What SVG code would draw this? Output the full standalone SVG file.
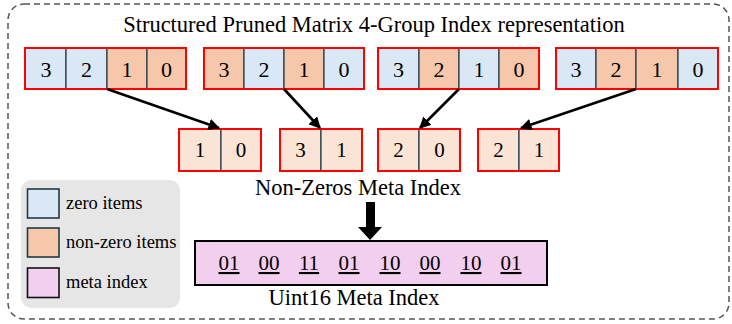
<svg xmlns="http://www.w3.org/2000/svg" width="732" height="324" viewBox="0 0 732 324">
<defs>
<style>
text{font-family:"Liberation Serif","Times New Roman",serif;fill:#000}
.lbl{font-size:22.5px;text-anchor:middle}
.d1{font-size:22px;text-anchor:middle}
.d2{font-size:21px;text-anchor:middle}
.dm{font-size:21px;text-anchor:middle;text-decoration:underline}
.leg{font-size:18.5px}
.z{fill:#DAE8F5;stroke:#1E3A46;stroke-width:1.2}
.n{fill:#F6C7AB;stroke:#1E3A46;stroke-width:1.2}
.l{fill:#FBE3D6;stroke:#1E3A46;stroke-width:1.2}
.red{fill:none;stroke:#FF0000;stroke-width:2}
.conn{stroke:#000;stroke-width:2.6;fill:none}
</style>
<marker id="ah" viewBox="0 0 10 10" refX="9" refY="5" markerWidth="4.5" markerHeight="4.5" orient="auto" markerUnits="strokeWidth">
<path d="M0,0 L10,5 L0,10 z" fill="#000"/>
</marker>
</defs>
<rect x="8" y="4" width="721" height="315" rx="16" fill="#fff" stroke="#555" stroke-width="1.5" stroke-dasharray="6,4"/>
<text class="lbl" x="374" y="32">Structured Pruned Matrix 4-Group Index representation</text>

<g id="group1">
<rect class="z" x="25" y="48" width="41" height="41"/>
<rect class="z" x="66" y="48" width="41" height="41"/>
<rect class="n" x="107" y="48" width="40" height="41"/>
<rect class="n" x="147" y="48" width="39" height="41"/>
<rect class="red" x="25" y="48" width="161" height="41"/>
<text class="d1" x="46" y="77">3</text><text class="d1" x="86.5" y="77">2</text><text class="d1" x="127" y="77">1</text><text class="d1" x="166.5" y="77">0</text>
</g>
<g id="group2">
<rect class="n" x="204" y="48" width="40" height="41"/>
<rect class="z" x="244" y="48" width="40" height="41"/>
<rect class="n" x="284" y="48" width="40" height="41"/>
<rect class="z" x="324" y="48" width="40" height="41"/>
<rect class="red" x="204" y="48" width="160" height="41"/>
<text class="d1" x="224" y="77">3</text><text class="d1" x="264" y="77">2</text><text class="d1" x="304" y="77">1</text><text class="d1" x="344" y="77">0</text>
</g>
<g id="group3">
<rect class="z" x="378" y="48" width="41" height="41"/>
<rect class="n" x="419" y="48" width="40" height="41"/>
<rect class="z" x="459" y="48" width="40" height="41"/>
<rect class="n" x="499" y="48" width="40" height="41"/>
<rect class="red" x="378" y="48" width="161" height="41"/>
<text class="d1" x="398.5" y="77">3</text><text class="d1" x="439" y="77">2</text><text class="d1" x="479" y="77">1</text><text class="d1" x="519" y="77">0</text>
</g>
<g id="group4">
<rect class="z" x="556" y="48" width="40" height="41"/>
<rect class="n" x="596" y="48" width="40" height="41"/>
<rect class="n" x="636" y="48" width="42" height="41"/>
<rect class="z" x="678" y="48" width="40" height="41"/>
<rect class="red" x="556" y="48" width="162" height="41"/>
<text class="d1" x="576" y="77">3</text><text class="d1" x="616" y="77">2</text><text class="d1" x="657" y="77">1</text><text class="d1" x="698" y="77">0</text>
</g>

<g id="nz1">
<rect class="l" x="179" y="129" width="42" height="42"/><rect class="l" x="221" y="129" width="40" height="42"/>
<rect class="red" x="179" y="129" width="82" height="42"/>
<text class="d2" x="200" y="157">1</text><text class="d2" x="241" y="157">0</text>
</g>
<g id="nz2">
<rect class="l" x="280" y="129" width="41" height="42"/><rect class="l" x="321" y="129" width="41" height="42"/>
<rect class="red" x="280" y="129" width="82" height="42"/>
<text class="d2" x="300.5" y="157">3</text><text class="d2" x="341.5" y="157">1</text>
</g>
<g id="nz3">
<rect class="l" x="378" y="129" width="41" height="42"/><rect class="l" x="419" y="129" width="41" height="42"/>
<rect class="red" x="378" y="129" width="82" height="42"/>
<text class="d2" x="398.5" y="157">2</text><text class="d2" x="439.5" y="157">0</text>
</g>
<g id="nz4">
<rect class="l" x="478" y="129" width="41" height="42"/><rect class="l" x="519" y="129" width="40" height="42"/>
<rect class="red" x="478" y="129" width="81" height="42"/>
<text class="d2" x="498.5" y="157">2</text><text class="d2" x="539" y="157">1</text>
</g>
<text class="lbl" x="358" y="195">Non-Zeros Meta Index</text>

<g id="connectors">
<line class="conn" x1="107" y1="89" x2="219" y2="128" marker-end="url(#ah)"/>
<line class="conn" x1="284" y1="89" x2="320" y2="128" marker-end="url(#ah)"/>
<line class="conn" x1="459" y1="89" x2="420" y2="128" marker-end="url(#ah)"/>
<line class="conn" x1="636" y1="89" x2="521" y2="128" marker-end="url(#ah)"/>
<polygon points="366,202 375,202 375,227 382,227 370,240 358,227 366,227" fill="#000"/>
</g>

<g id="meta">
<rect x="195" y="241" width="352" height="44" fill="#F2CFEE" stroke="#000" stroke-width="2"/>
<text class="dm" x="229" y="270">01</text><text class="dm" x="269" y="270">00</text><text class="dm" x="309" y="270">11</text><text class="dm" x="349" y="270">01</text>
<text class="dm" x="390" y="270">10</text><text class="dm" x="430" y="270">00</text><text class="dm" x="471" y="270">10</text><text class="dm" x="511" y="270">01</text>
</g>
<text class="lbl" x="354" y="305">Uint16 Meta Index</text>

<g id="legend">
<rect x="21" y="180" width="159" height="128" rx="10" fill="#E6E6E6"/>
<rect x="27.5" y="189" width="31.5" height="29" fill="#DAE8F5" stroke="#1E3A46" stroke-width="1.6"/>
<rect x="27.5" y="228" width="31.5" height="29" fill="#F6C7AB" stroke="#1E3A46" stroke-width="1.6"/>
<rect x="27.5" y="268" width="31.5" height="29.5" fill="#F2CFEE" stroke="#111" stroke-width="1.6"/>
<text class="leg" x="66" y="209">zero items</text>
<text class="leg" x="66" y="248">non-zero items</text>
<text class="leg" x="66" y="288">meta index</text>
</g>
</svg>
